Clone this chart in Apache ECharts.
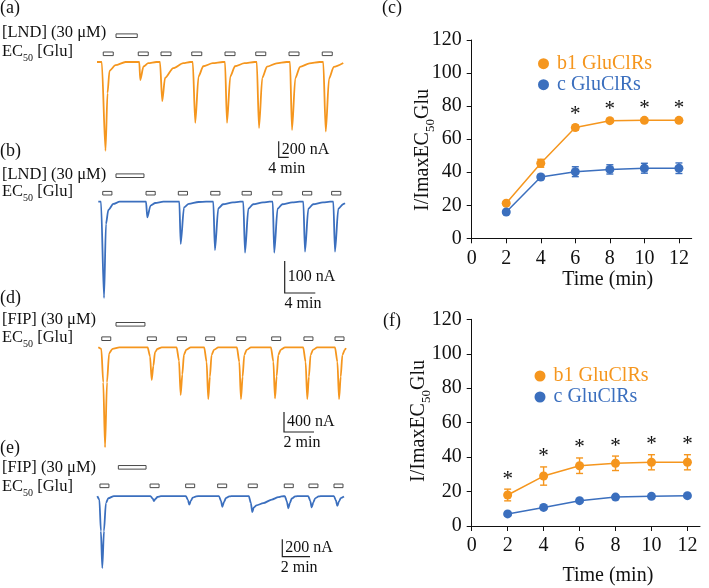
<!DOCTYPE html>
<html>
<head>
<meta charset="utf-8">
<script src="https://cdn.jsdelivr.net/npm/echarts@6/dist/echarts.min.js"></script>
<style>
  html, body { margin: 0; padding: 0; background: #fff; }
  #main { width: 709px; height: 588px; }
</style>
</head>
<body>
<div id="main"></div>
<script>
  // ---- current traces: [time (min), current (nA)] ----
  const traceA = [
    [0, 0], [1.9, 0], [3.4, -1110], [4.2, -390], [5.0, -110], [7.4, -40], [11.4, 0],
    [16.9, 0], [17.3, -225], [18.6, -56], [20.5, -14], [23.7, 0],
    [25.2, 0], [26.1, -490], [27.2, -200], [30.5, -76], [34.5, -15], [37.3, 0],
    [38.3, 0], [39.3, -760], [40.6, -182], [42.5, -53], [46.3, -15], [50.3, 0],
    [51.2, 0], [52.0, -760], [53.3, -182], [55.2, -53], [59.0, -15], [63.0, 0],
    [63.9, 0], [64.8, -825], [66.1, -198], [68.0, -58], [71.8, -16], [75.8, 0],
    [77.2, 0], [78.0, -850], [79.3, -204], [81.2, -60], [85.0, -17], [89.0, 0],
    [90.5, 0], [91.5, -870], [92.8, -209], [94.7, -61], [98.5, -12]
  ];
  const traceB = [
    [0, 0], [0.35, 0], [0.75, -301], [1.0, -70], [1.31, -26], [1.96, -7], [2.8, 0],
    [6.24, 0], [6.4, -49], [6.83, -12], [7.45, -4], [8.5, 0],
    [10.59, 0], [10.77, -132], [11.2, -18], [11.82, -7], [13.1, -1], [14.1, 0],
    [15.03, 0], [15.25, -151], [15.68, -21], [16.3, -8], [17.6, -2], [18.55, 0],
    [18.95, 0], [19.18, -159], [19.61, -22], [20.23, -8], [21.53, -2], [22.4, 0],
    [22.8, 0], [23.0, -159], [23.43, -22], [24.05, -8], [25.35, -2], [26.3, 0],
    [26.8, 0], [27.02, -156], [27.45, -22], [28.07, -8], [29.37, -2], [30.3, 0],
    [30.72, 0], [30.94, -156], [31.37, -22], [31.99, -8], [32.25, -5]
  ];
  const traceD = [
    [0, 0], [0.2, -30], [0.33, -700], [0.45, -2000], [0.58, -700], [0.72, -120], [0.95, -30], [1.4, 0],
    [3.29, 0], [3.45, -183], [3.56, -654], [3.67, -373], [3.78, -98], [3.94, -33], [4.23, 0],
    [5.22, 0], [5.38, -267], [5.49, -954], [5.6, -544], [5.71, -143], [5.87, -48], [6.16, 0],
    [7.06, 0], [7.22, -290], [7.33, -1034], [7.44, -589], [7.55, -155], [7.71, -52], [8.0, 0],
    [9.24, 0], [9.4, -290], [9.51, -1034], [9.62, -589], [9.73, -155], [9.89, -52], [10.18, 0],
    [11.51, 0], [11.67, -286], [11.78, -1020], [11.89, -581], [12.0, -153], [12.16, -51], [12.45, 0],
    [13.66, 0], [13.82, -290], [13.93, -1034], [14.04, -589], [14.15, -155], [14.31, -52], [14.6, 0],
    [15.78, 0], [15.94, -290], [16.05, -1034], [16.16, -589], [16.27, -155], [16.43, -52], [16.51, -15]
  ];
  const traceE = [
    [0, 0], [0.15, -40], [0.26, -400], [0.36, -823], [0.48, -400], [0.62, -80], [0.8, -25], [1.2, 0],
    [3.84, 0], [3.99, -26], [4.09, -57], [4.21, -31], [4.34, -11], [4.59, -2], [4.89, 0],
    [6.39, 0], [6.54, -44], [6.64, -97], [6.76, -53], [6.89, -19], [7.14, -3], [7.44, 0],
    [8.78, 0], [8.93, -55], [9.03, -123], [9.15, -68], [9.28, -25], [9.53, -4], [9.83, 0],
    [10.94, 0], [11.09, -82], [11.19, -183], [11.3, -130], [11.5, -106], [11.98, -82], [12.6, -40], [13.07, -13], [13.3, -5],
    [13.54, 0], [13.69, -63], [13.79, -140], [13.91, -77], [14.04, -28], [14.29, -4], [14.59, 0],
    [15.23, 0], [15.38, -58], [15.48, -130], [15.6, -72], [15.73, -26], [15.98, -4], [16.28, 0],
    [17.08, 0], [17.23, -51], [17.33, -113], [17.45, -62], [17.58, -23], [17.81, -5]
  ];

  // glutamate applications (start, min) and their length, drug application [start, end]
  const gluA = [2.5, 16.5, 25.6, 37.9, 51.2, 63.5, 76.8, 90.1];
  const gluB = [0.58, 6.24, 10.46, 14.7, 18.8, 22.8, 26.7, 30.5];
  const gluD = [0.23, 3.27, 5.27, 7.16, 9.23, 11.56, 13.71, 15.78];
  const gluE = [0.19, 3.81, 6.38, 8.69, 10.9, 13.5, 15.28, 17.09];
  const gluLen = [4, 1.2, 0.6, 0.65];
  const drugA = [7.6, 16.1];
  const drugB = [2.31, 5.97];
  const drugD = [1.18, 3.11];
  const drugE = [1.52, 3.52];

  // scale bars [min, nA]
  const scaleA = [4, 200];
  const scaleB = [4, 100];
  const scaleD = [2, 400];
  const scaleE = [2, 200];

  // ---- summary charts ----
  const timePts = [2, 4, 6, 8, 10, 12];
  const b1LND = [21.2, 45.4, 67.0, 71.2, 71.4, 71.4];
  const b1LNDErr = [1.0, 2.4, 1.6, 1.0, 1.0, 1.0];
  const cLND = [15.9, 37.1, 40.3, 41.7, 42.4, 42.4];
  const cLNDErr = [1.0, 1.5, 3.0, 2.8, 3.0, 3.2];
  const sigLND = [0, 0, 1, 1, 1, 1];
  const b1FIP = [18.0, 29.0, 35.0, 36.4, 37.0, 37.0];
  const b1FIPErr = [3.4, 5.3, 4.5, 4.2, 4.4, 4.4];
  const cFIP = [7.0, 10.8, 14.7, 16.8, 17.2, 17.6];
  const cFIPErr = [1.0, 1.0, 1.0, 1.0, 1.0, 1.0];
  const sigFIP = [1, 1, 1, 1, 1, 1];
  const xTicks = [0, 2, 4, 6, 8, 10, 12];
  const yTicks = [0, 20, 40, 60, 80, 100, 120];

  const ORANGE = '#F5961E';
  const BLUE = '#3B6FBE';
  const FONT = 'Liberation Serif';

  // layout of the four trace panels (pixels)
  const panels = [
    { trace: traceA, glu: gluA, len: gluLen[0], drug: drugA, scale: scaleA, color: ORANGE,
      left: 97, base: 62, pxPerMin: 2.5, nAPerPx: 12.5, gluOff: 8.2, drugOff: 26.3, corner: [278.7, 157.3] },
    { trace: traceB, glu: gluB, len: gluLen[1], drug: drugB, scale: scaleB, color: BLUE,
      left: 98.3, base: 201.7, pxPerMin: 7.65, nAPerPx: 3.125, gluOff: 8.5, drugOff: 26, corner: [284.7, 293] },
    { trace: traceD, glu: gluD, len: gluLen[2], drug: drugD, scale: scaleD, color: ORANGE,
      left: 98.3, base: 347.3, pxPerMin: 15, nAPerPx: 20, gluOff: 8.6, drugOff: 23, corner: [284, 432] },
    { trace: traceE, glu: gluE, len: gluLen[3], drug: drugE, scale: scaleE, color: BLUE,
      left: 97.3, base: 501, pxPerMin: 13.85, nAPerPx: 10, gluOff: 10.2, drugOff: 28.7, corner: [282.3, 556.7] }
  ];

  const grids = [], xAxes = [], yAxes = [], series = [];

  panels.forEach((p, i) => {
    grids.push({ left: p.left, top: p.base - 40, width: 250, height: 145 });
    xAxes.push({ gridIndex: i, type: 'value', min: 0, max: 250 / p.pxPerMin, show: false });
    yAxes.push({ gridIndex: i, type: 'value', min: -105 * p.nAPerPx, max: 40 * p.nAPerPx, show: false });

    series.push({
      type: 'line', xAxisIndex: i, yAxisIndex: i, data: p.trace,
      showSymbol: false, smooth: 0.25, smoothMonotone: 'x',
      lineStyle: { color: p.color, width: 1.8 }, silent: true
    });

    const barRender = (off) => (params, api) => {
      const pt = api.coord([api.value(0), 0]);
      const w = api.size([api.value(1), 0])[0];
      return {
        type: 'rect',
        shape: { x: pt[0], y: pt[1] - off - 1.8, width: w, height: 3.6 },
        style: { fill: '#fff', stroke: '#4a4a4a', lineWidth: 1 }
      };
    };
    series.push({
      type: 'custom', xAxisIndex: i, yAxisIndex: i,
      data: p.glu.map(s => [s, p.len]), renderItem: barRender(p.gluOff)
    });
    series.push({
      type: 'custom', xAxisIndex: i, yAxisIndex: i,
      data: [[p.drug[0], p.drug[1] - p.drug[0]]], renderItem: barRender(p.drugOff)
    });

    series.push({
      type: 'custom', xAxisIndex: i, yAxisIndex: i,
      data: [p.scale],
      renderItem: (params, api) => {
        const w = api.size([api.value(0), 0])[0];
        const h = api.size([0, api.value(1)])[1];
        const cx = p.corner[0], cy = p.corner[1];
        return {
          type: 'group',
          children: [
            { type: 'polyline', shape: { points: [[cx, cy - h], [cx, cy], [cx + w, cy]] },
              style: { stroke: '#222', lineWidth: 1.2, fill: null } },
            { type: 'text', x: cx + 3, y: cy - h / 2,
              style: { text: api.value(1) + ' nA', fontFamily: FONT, fontSize: 16, fill: '#111',
                       align: 'left', verticalAlign: 'middle' } },
            { type: 'text', x: cx + w / 2 + 3, y: cy + 11,
              style: { text: api.value(0) + ' min', fontFamily: FONT, fontSize: 16, fill: '#111',
                       align: 'center', verticalAlign: 'middle' } }
          ]
        };
      }
    });
  });

  // ---- summary charts (c) and (f) ----
  const chartLayouts = [
    { grid: { left: 471.7, top: 40, width: 220, height: 198.3 }, xmax: 12.74,
      xGap: 31, xPad: [0, 0, 0, 52], yName: [425, 150],
      b1: b1LND, b1Err: b1LNDErr, c: cLND, cErr: cLNDErr, sig: sigLND, legendTop: 48.7, legendLeft: 533 },
    { grid: { left: 471.7, top: 319.3, width: 228.3, height: 206.7 }, xmax: 12.7,
      xGap: 40, xPad: [0, 0, 0, 44], yName: [421, 421],
      b1: b1FIP, b1Err: b1FIPErr, c: cFIP, cErr: cFIPErr, sig: sigFIP, legendTop: 361, legendLeft: 529.5 }
  ];

  const axisText = { fontFamily: FONT, fontSize: 20, color: '#111' };
  const nameRich = {
    n: { fontFamily: FONT, fontSize: 20, lineHeight: 24, verticalAlign: 'top', fill: '#111' },
    s: { fontFamily: FONT, fontSize: 13, lineHeight: 10, verticalAlign: 'bottom', fill: '#111' }
  };

  const errRender = (color) => (params, api) => {
    const x = api.value(0), m = api.value(1), e = api.value(2);
    const top = api.coord([x, m + e]), bot = api.coord([x, m - e]);
    const st = { stroke: color, lineWidth: 1.4 };
    const c = 3.5;
    return {
      type: 'group',
      children: [
        { type: 'line', shape: { x1: top[0], y1: top[1], x2: bot[0], y2: bot[1] }, style: st },
        { type: 'line', shape: { x1: top[0] - c, y1: top[1], x2: top[0] + c, y2: top[1] }, style: st },
        { type: 'line', shape: { x1: bot[0] - c, y1: bot[1], x2: bot[0] + c, y2: bot[1] }, style: st }
      ]
    };
  };

  const legends = [];
  const yNames = [];
  chartLayouts.forEach((L, k) => {
    const gi = 4 + k;
    grids.push(L.grid);
    xAxes.push({
      gridIndex: gi, type: 'value', min: 0, max: L.xmax, interval: 2,
      axisLine: { show: true, lineStyle: { color: '#111', width: 1 } },
      axisTick: { show: true, length: 5, customValues: xTicks, lineStyle: { color: '#111' } },
      axisLabel: { customValues: xTicks, margin: 10, ...axisText },
      splitLine: { show: false },
      name: 'Time (min)', nameLocation: 'middle', nameGap: L.xGap,
      nameTextStyle: { ...axisText, padding: L.xPad }
    });
    yAxes.push({
      gridIndex: gi, type: 'value', min: 0, max: 120, interval: 20,
      axisLine: { show: true, lineStyle: { color: '#111', width: 1 } },
      axisTick: { show: true, length: 5, customValues: yTicks, lineStyle: { color: '#111' } },
      axisLabel: { customValues: yTicks, margin: 10, ...axisText },
      splitLine: { show: false }
    });
    // y axis title, rotated, with subscript
    yNames.push({
      type: 'text', x: L.yName[0], y: L.yName[1], rotation: Math.PI / 2,
      style: { text: '{n|I/ImaxEC}{s|50}{n|Glu}', rich: nameRich, fontFamily: FONT, fontSize: 20,
               fill: '#111', align: 'center', verticalAlign: 'middle' }
    });

    const pairs = [
      { name: 'b1 GluClRs', vals: L.b1, err: L.b1Err, color: ORANGE },
      { name: 'c GluClRs', vals: L.c, err: L.cErr, color: BLUE }
    ];
    pairs.forEach(s => {
      series.push({
        type: 'line', name: s.name, xAxisIndex: gi, yAxisIndex: gi,
        data: timePts.map((t, j) => [t, s.vals[j]]),
        symbol: 'circle', symbolSize: 9, showSymbol: true,
        itemStyle: { color: s.color }, lineStyle: { color: s.color, width: 1.5 }, z: 2
      });
      series.push({
        type: 'custom', xAxisIndex: gi, yAxisIndex: gi, z: 3,
        data: timePts.map((t, j) => [t, s.vals[j], s.err[j]]),
        renderItem: errRender(s.color)
      });
    });

    series.push({
      type: 'custom', xAxisIndex: gi, yAxisIndex: gi, z: 4,
      data: timePts.map((t, j) => [t, L.b1[j] + L.b1Err[j], L.sig[j]]).filter(d => d[2]),
      renderItem: (params, api) => {
        const pt = api.coord([api.value(0), api.value(1)]);
        return {
          type: 'text', x: pt[0], y: pt[1] - 10,
          style: { text: '*', fontFamily: FONT, fontSize: 21, fill: '#111', align: 'center', verticalAlign: 'middle' }
        };
      }
    });

    legends.push({
      orient: 'vertical', left: L.legendLeft, top: L.legendTop, itemGap: 1,
      icon: 'circle', itemWidth: 11, itemHeight: 11, selectedMode: false,
      textStyle: { fontFamily: FONT, fontSize: 20, lineHeight: 20, padding: [0, 0, 0, 3] },
      data: [
        { name: 'b1 GluClRs', textStyle: { color: ORANGE } },
        { name: 'c GluClRs', textStyle: { color: BLUE } }
      ]
    });
  });

  // ---- panel letters and annotations ----
  const labRich = {
    n: { fontFamily: FONT, fontSize: 16.5, lineHeight: 20, verticalAlign: 'top', fill: '#111' },
    s: { fontFamily: FONT, fontSize: 10, lineHeight: 8, verticalAlign: 'bottom', fill: '#111' }
  };
  const txt = (x, y, text, size) => ({
    type: 'text', x: x, y: y,
    style: { text: text, fontFamily: FONT, fontSize: size, fill: '#111', verticalAlign: 'middle', rich: labRich }
  });
  const ec50 = '{n|EC}{s|50}{n| [Glu]}';

  const graphic = [
    txt(0, 8, '(a)', 18), txt(2, 33, '[LND] (30 μM)', 16.5), txt(2, 53, ec50, 16),
    txt(0, 151, '(b)', 18), txt(2, 175, '[LND] (30 μM)', 16.5), txt(2, 193, ec50, 16),
    txt(0, 298, '(d)', 18), txt(2, 320, '[FIP] (30 μM)', 16.5), txt(2, 339, ec50, 16),
    txt(0, 448, '(e)', 18), txt(2, 468, '[FIP] (30 μM)', 16.5), txt(2, 488, ec50, 16),
    txt(382, 8, '(c)', 18), txt(383, 321, '(f)', 18)
  ].concat(yNames);

  const chart = echarts.init(document.getElementById('main'));
  chart.setOption({
    backgroundColor: '#fff',
    animation: false,
    grid: grids,
    xAxis: xAxes,
    yAxis: yAxes,
    legend: legends,
    graphic: graphic,
    series: series
  });
</script>
</body>
</html>
